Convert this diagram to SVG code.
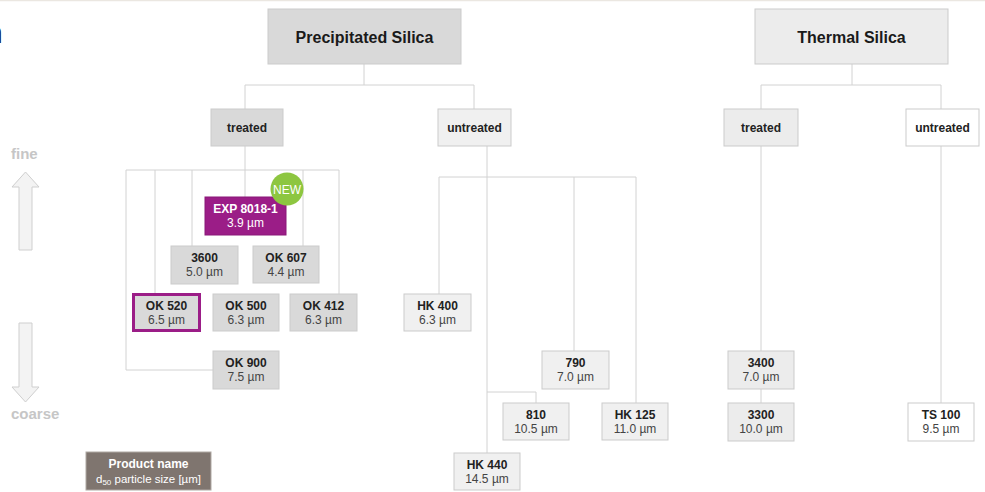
<svg xmlns="http://www.w3.org/2000/svg" width="985" height="492" viewBox="0 0 985 492">
<style>
text{font-family:"Liberation Sans",Arial,sans-serif;text-anchor:middle}
.box{stroke:#cbcbcb;stroke-width:1}
.dk{fill:#d9d9d9}
.lt{fill:#f0f0f0}
.th{fill:#ececec}
.wh{fill:#ffffff}
.title{font-size:16px;font-weight:bold;fill:#1a1a1a}
.cat{font-size:12px;font-weight:bold;fill:#222}
.nm{font-size:12px;font-weight:bold;fill:#222}
.sz{font-size:12px;fill:#444}
.conn{fill:none;stroke:#d2d2d2;stroke-width:1}
.axis{font-size:15px;font-weight:bold;fill:#c6c6c6;text-anchor:start}
.arrow{fill:#f3f3f3;stroke:#cfcfcf;stroke-width:1}
</style>
<rect x="0" y="0" width="985" height="492" fill="#ffffff"/>
<line x1="0" y1="0.5" x2="985" y2="0.5" stroke="#ebe7e1" stroke-width="1.5"/>
<text x="-14" y="43" style="font-size:30px;fill:#111;text-anchor:start">n</text>

<g id="connectors" class="conn">
<path d="M364,64 V85 M245,85 H474 M245,85 V109 M474,85 V109"/>
<path d="M245,146 V197 M126,170 H339 M126,170 V370 H213 M155,170 V294 M192,170 V246 M303,170 V246 M339,170 V294"/>
<path d="M487,146 V453 M439,177 H636 M439,177 V294 M574,177 V351 M636,177 V403 M487,392 H536 V403"/>
<path d="M852,64 V85 M761,85 H941 M761,85 V109 M941,85 V109 M761,146 V351 M761,389 V403 M941,146 V403"/>
</g>

<g id="precipitated">
<rect class="box dk" x="268" y="9" width="193" height="55"/>
<text class="title" x="364.5" y="42.5">Precipitated Silica</text>
</g>
<g id="thermal">
<rect class="box th" x="755" y="9" width="193" height="55"/>
<text class="title" x="851.5" y="42.5">Thermal Silica</text>
</g>
<g id="p-treated">
<rect class="box dk" x="211" y="109" width="72" height="37"/>
<text class="cat" x="247" y="132">treated</text>
</g>
<g id="p-untreated">
<rect class="box lt" x="438" y="109" width="73" height="37"/>
<text class="cat" x="474.5" y="132">untreated</text>
</g>
<g id="t-treated">
<rect class="box th" x="724" y="109" width="74" height="37"/>
<text class="cat" x="761" y="132">treated</text>
</g>
<g id="t-untreated">
<rect class="box wh" x="906" y="109" width="73" height="37"/>
<text class="cat" x="942.5" y="132">untreated</text>
</g>

<g id="exp8018">
<rect x="205" y="197" width="81" height="38" fill="#9b1d87" stroke="#8a1878"/>
<text class="nm" x="245.5" y="213" style="fill:#fff">EXP 8018-1</text>
<text class="sz" x="245.5" y="227" style="fill:#fff">3.9 µm</text>
<circle cx="287" cy="189" r="16.5" fill="#8dc640"/>
<text x="287" y="193.5" style="font-size:12px;fill:#fff">NEW</text>
</g>
<g id="n3600">
<rect class="box dk" x="171" y="246" width="67" height="38"/>
<text class="nm" x="204.5" y="262">3600</text>
<text class="sz" x="204.5" y="276">5.0 µm</text>
</g>
<g id="ok607">
<rect class="box dk" x="253" y="246" width="66" height="37"/>
<text class="nm" x="286" y="262">OK 607</text>
<text class="sz" x="286" y="276">4.4 µm</text>
</g>
<g id="ok520">
<rect x="133.5" y="294.5" width="66" height="36" fill="#d9d9d9" stroke="#9b1d87" stroke-width="3"/>
<text class="nm" x="166.5" y="310">OK 520</text>
<text class="sz" x="166.5" y="324">6.5 µm</text>
</g>
<g id="ok500">
<rect class="box dk" x="213" y="294" width="66" height="37"/>
<text class="nm" x="246" y="310">OK 500</text>
<text class="sz" x="246" y="324">6.3 µm</text>
</g>
<g id="ok412">
<rect class="box dk" x="290" y="294" width="67" height="37"/>
<text class="nm" x="323.5" y="310">OK 412</text>
<text class="sz" x="323.5" y="324">6.3 µm</text>
</g>
<g id="ok900">
<rect class="box dk" x="213" y="351" width="66" height="38"/>
<text class="nm" x="246" y="367">OK 900</text>
<text class="sz" x="246" y="381">7.5 µm</text>
</g>

<g id="hk400">
<rect class="box lt" x="404" y="294" width="67" height="37"/>
<text class="nm" x="437.5" y="310">HK 400</text>
<text class="sz" x="437.5" y="324">6.3 µm</text>
</g>
<g id="n790">
<rect class="box lt" x="542" y="351" width="67" height="38"/>
<text class="nm" x="575.5" y="367">790</text>
<text class="sz" x="575.5" y="381">7.0 µm</text>
</g>
<g id="n810">
<rect class="box lt" x="503" y="403" width="66" height="37"/>
<text class="nm" x="536" y="419">810</text>
<text class="sz" x="536" y="433">10.5 µm</text>
</g>
<g id="hk125">
<rect class="box lt" x="602" y="403" width="66" height="37"/>
<text class="nm" x="635" y="419">HK 125</text>
<text class="sz" x="635" y="433">11.0 µm</text>
</g>
<g id="hk440">
<rect class="box lt" x="454" y="453" width="66" height="37"/>
<text class="nm" x="487" y="469">HK 440</text>
<text class="sz" x="487" y="483">14.5 µm</text>
</g>

<g id="n3400">
<rect class="box th" x="728" y="351" width="66" height="38"/>
<text class="nm" x="761" y="367">3400</text>
<text class="sz" x="761" y="381">7.0 µm</text>
</g>
<g id="n3300">
<rect class="box th" x="728" y="403" width="66" height="38"/>
<text class="nm" x="761" y="419">3300</text>
<text class="sz" x="761" y="433">10.0 µm</text>
</g>
<g id="ts100">
<rect class="box wh" x="908" y="403" width="66" height="38"/>
<text class="nm" x="941" y="419">TS 100</text>
<text class="sz" x="941" y="433">9.5 µm</text>
</g>

<g id="scale">
<text class="axis" x="11" y="159">fine</text>
<path class="arrow" d="M25.5,172 L39,187 L32,187 L32,250 L19,250 L19,187 L12,187 Z"/>
<path class="arrow" d="M19,323 L32,323 L32,387 L39,387 L25.5,402 L12,387 L19,387 Z"/>
<text class="axis" x="11" y="419">coarse</text>
</g>

<g id="legend">
<rect x="86" y="452" width="125" height="38" fill="#7f756f" stroke="#b0a9a4"/>
<text x="148.5" y="468" style="font-size:12px;font-weight:bold;fill:#fff">Product name</text>
<text x="148.5" y="483" style="font-size:11.5px;fill:#fff">d<tspan style="font-size:8px" dy="2">50</tspan><tspan dy="-2"> particle size [µm]</tspan></text>
</g>
</svg>
